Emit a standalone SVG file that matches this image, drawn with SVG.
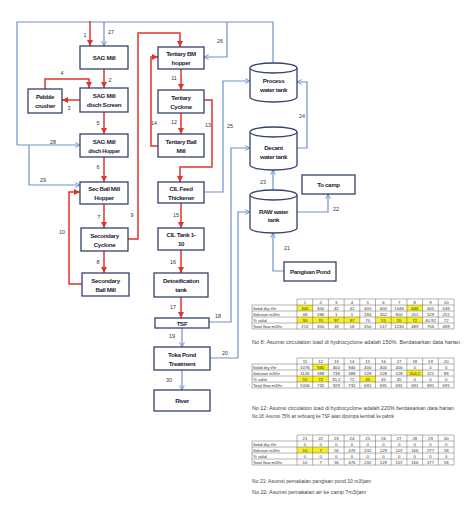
<svg xmlns="http://www.w3.org/2000/svg" xmlns:xlink="http://www.w3.org/1999/xlink" width="474" height="505" viewBox="0 0 474 505">
<style>
.bx{fill:#fff;stroke:#34436c;stroke-width:1.3}
.bt{font-family:"Liberation Sans",Arial,sans-serif;font-size:6.2px;font-weight:bold;fill:#1d2333;text-anchor:middle;letter-spacing:-0.35px}
.r{fill:none;stroke:#e0352b;stroke-width:1.5}
.b{fill:none;stroke:#7391c8;stroke-width:1.2}
.n{font-family:"Liberation Sans",Arial,sans-serif;font-size:5.4px;fill:#333;text-anchor:middle}
.g{fill:none;stroke:#555;stroke-width:0.45}
.t{font-family:"Liberation Sans",Arial,sans-serif;font-size:4.3px;fill:#333;text-anchor:middle}
.tl{font-family:"Liberation Sans",Arial,sans-serif;font-size:4.2px;fill:#333}
.nt{font-family:"Liberation Sans",Arial,sans-serif;font-size:4.6px;fill:#444}
.y{fill:#f7ef1e}
</style>
<defs>
<marker id="ar" viewBox="0 0 10 10" refX="10" refY="5" markerWidth="6" markerHeight="6" markerUnits="userSpaceOnUse" orient="auto"><path d="M0,0 L10,5 L0,10 z" fill="#e0352b"/></marker>
<marker id="ab" viewBox="0 0 10 10" refX="9" refY="5" markerWidth="6" markerHeight="6" markerUnits="userSpaceOnUse" orient="auto"><path d="M1,1 L9,5 L1,9" fill="none" stroke="#7391c8" stroke-width="1.6"/></marker>
<path id="grid" class="g" d="M297,0 H454 M252,6 H454 M252,12 H454 M252,18 H454 M252,24 H454 M252,30 H454 M252,6 V30 M297,0 V30 M312.7,0 V30 M328.4,0 V30 M344.1,0 V30 M359.8,0 V30 M375.5,0 V30 M391.2,0 V30 M406.9,0 V30 M422.6,0 V30 M438.3,0 V30 M454,0 V30"/>
</defs>

<g id="connectors">
<!-- blue water lines -->
<path class="b" d="M17,145 V22 H273 V63"/>
<path class="b" d="M104,22 V46" marker-end="url(#ab)"/>
<path class="b" d="M17,145 H80" marker-end="url(#ab)"/>
<path class="b" d="M29,145 V185 H80" marker-end="url(#ab)"/>
<path class="b" d="M227,22 V57 H204" marker-end="url(#ab)"/>
<path class="b" d="M204,192 H223 V81 H250" marker-end="url(#ab)"/>
<path class="b" d="M297,148 H307 V82 H297" marker-end="url(#ab)"/>
<path class="b" d="M209,322 H231 V148 H250" marker-end="url(#ab)"/>
<path class="b" d="M273,190 V170" marker-end="url(#ab)"/>
<path class="b" d="M297,212 H328 V194" marker-end="url(#ab)"/>
<path class="b" d="M284,271 H273 V233" marker-end="url(#ab)"/>
<path class="b" d="M210,358 H238 V212 H250" marker-end="url(#ab)"/>
<path class="b" d="M182,328 V347" marker-end="url(#ab)"/>
<path class="b" d="M182,370 V390" marker-end="url(#ab)"/>
<!-- red slurry lines -->
<path class="r" d="M90,21 V46" marker-end="url(#ar)"/>
<path class="r" d="M104,69 V88" marker-end="url(#ar)"/>
<path class="r" d="M45,89 V79 H89 V88" marker-end="url(#ar)"/>
<path class="r" d="M80,100 H62" marker-end="url(#ar)"/>
<path class="r" d="M104,112 V134" marker-end="url(#ar)"/>
<path class="r" d="M104,157 V182" marker-end="url(#ar)"/>
<path class="r" d="M104,204 V228" marker-end="url(#ar)"/>
<path class="r" d="M104,251 V273" marker-end="url(#ar)"/>
<path class="r" d="M82,284 H69 V192 H80" marker-end="url(#ar)"/>
<path class="r" d="M128,239 H138 V33 H180 V47" marker-end="url(#ar)"/>
<path class="r" d="M181,69 V90" marker-end="url(#ar)"/>
<path class="r" d="M181,113 V134" marker-end="url(#ar)"/>
<path class="r" d="M158,146 H151 V57 H158" marker-end="url(#ar)"/>
<path class="r" d="M204,100 H212 V167 H180 V182" marker-end="url(#ar)"/>
<path class="r" d="M181,203 V228" marker-end="url(#ar)"/>
<path class="r" d="M181,250 V273" marker-end="url(#ar)"/>
<path class="r" d="M181,297 V318" marker-end="url(#ar)"/>
<!-- stream numbers -->
<text class="n" x="85" y="37">1</text>
<text class="n" x="111" y="34">27</text>
<text class="n" x="110" y="82">2</text>
<text class="n" x="62" y="75">4</text>
<text class="n" x="69" y="110">3</text>
<text class="n" x="98" y="125">5</text>
<text class="n" x="53" y="144">28</text>
<text class="n" x="98" y="169">6</text>
<text class="n" x="43" y="182">29</text>
<text class="n" x="99" y="219">7</text>
<text class="n" x="132" y="217">9</text>
<text class="n" x="62" y="234">10</text>
<text class="n" x="98" y="264">8</text>
<text class="n" x="220" y="43">26</text>
<text class="n" x="174" y="80">11</text>
<text class="n" x="174" y="124">12</text>
<text class="n" x="154" y="125">14</text>
<text class="n" x="208" y="127">13</text>
<text class="n" x="230" y="128">25</text>
<text class="n" x="302" y="118">24</text>
<text class="n" x="263" y="184">23</text>
<text class="n" x="336" y="211">22</text>
<text class="n" x="287" y="250">21</text>
<text class="n" x="176" y="217">15</text>
<text class="n" x="173" y="264">16</text>
<text class="n" x="173" y="309">17</text>
<text class="n" x="218" y="318">18</text>
<text class="n" x="172" y="338">19</text>
<text class="n" x="225" y="355">20</text>
<text class="n" x="169" y="382">30</text>
</g>

<g id="sag-mill"><rect class="bx" x="80" y="46" width="48" height="23"/><text class="bt" x="104" y="60">SAG Mill</text></g>
<g id="sag-screen"><rect class="bx" x="80" y="88" width="48" height="24"/><text class="bt" x="104" y="98">SAG Mill</text><text class="bt" x="104" y="107">disch Screen</text></g>
<g id="pebble"><rect class="bx" x="28" y="89" width="34" height="24"/><text class="bt" x="45" y="99">Pebble</text><text class="bt" x="45" y="108">crusher</text></g>
<g id="sag-hopper"><rect class="bx" x="80" y="134" width="48" height="23"/><text class="bt" x="104" y="144">SAG Mill</text><text class="bt" x="104" y="153" style="font-size:5.6px">disch Hopper</text></g>
<g id="sec-hopper"><rect class="bx" x="80" y="182" width="48" height="22"/><text class="bt" x="104" y="191">Sec Ball Mill</text><text class="bt" x="104" y="200">Hopper</text></g>
<g id="sec-cyclone"><rect class="bx" x="81" y="228" width="47" height="23"/><text class="bt" x="104.5" y="237.5">Secondary</text><text class="bt" x="104.5" y="246.5">Cyclone</text></g>
<g id="sec-mill"><rect class="bx" x="82" y="273" width="47" height="23"/><text class="bt" x="105.5" y="282.5">Secondary</text><text class="bt" x="105.5" y="291.5">Ball Mill</text></g>
<g id="ter-hopper"><rect class="bx" x="158" y="47" width="46" height="22"/><text class="bt" x="181" y="56">Tertiary BM</text><text class="bt" x="181" y="65">hopper</text></g>
<g id="ter-cyclone"><rect class="bx" x="158" y="90" width="46" height="23"/><text class="bt" x="181" y="99.5">Tertiary</text><text class="bt" x="181" y="108.5">Cyclone</text></g>
<g id="ter-mill"><rect class="bx" x="158" y="134" width="46" height="23"/><text class="bt" x="181" y="143.5">Tertiary Ball</text><text class="bt" x="181" y="152.5">Mill</text></g>
<g id="thickener"><rect class="bx" x="158" y="182" width="46" height="21"/><text class="bt" x="181" y="191">CIL Feed</text><text class="bt" x="181" y="200">Thickener</text></g>
<g id="cil-tank"><rect class="bx" x="158" y="228" width="46" height="22"/><text class="bt" x="181" y="237">CIL Tank 1-</text><text class="bt" x="181" y="246">10</text></g>
<g id="detox"><rect class="bx" x="154" y="273" width="54" height="24"/><text class="bt" x="181" y="283">Detoxification</text><text class="bt" x="181" y="292">tank</text></g>
<g id="tsf"><rect class="bx" x="155" y="318" width="54" height="10"/><text class="bt" x="182" y="325.5">TSF</text></g>
<g id="toka"><rect class="bx" x="154" y="347" width="56" height="23"/><text class="bt" x="182" y="356.5">Toka Pond</text><text class="bt" x="182" y="365.5">Treatment</text></g>
<g id="river"><rect class="bx" x="154" y="390" width="56" height="21"/><text class="bt" x="182" y="403">River</text></g>
<g id="to-camp"><rect class="bx" x="302" y="175" width="53" height="19"/><text class="bt" x="328.5" y="187">To camp</text></g>
<g id="pangisan"><rect class="bx" x="284" y="262" width="52" height="19"/><text class="bt" x="310" y="274">Pangisan Pond</text></g>
<g id="process-tank"><path class="bx" d="M250,68 V97 A23.5,5 0 0 0 297,97 V68"/><ellipse class="bx" cx="273.5" cy="68" rx="23.5" ry="5"/><text class="bt" x="273.5" y="83">Process</text><text class="bt" x="273.5" y="92">water tank</text></g>
<g id="decant-tank"><path class="bx" d="M250,132 V165 A23.5,5 0 0 0 297,165 V132"/><ellipse class="bx" cx="273.5" cy="132" rx="23.5" ry="5"/><text class="bt" x="273.5" y="150">Decant</text><text class="bt" x="273.5" y="159">water tank</text></g>
<g id="raw-tank"><path class="bx" d="M250,195 V228 A23.5,5 0 0 0 297,228 V195"/><ellipse class="bx" cx="273.5" cy="195" rx="23.5" ry="5"/><text class="bt" x="273.5" y="214">RAW water</text><text class="bt" x="273.5" y="222">tank</text></g>

<g id="table1">
<rect class="y" x="297" y="305" width="15.7" height="6"/><rect class="y" x="406.9" y="305" width="15.7" height="6"/>
<rect class="y" x="297" y="317" width="62.8" height="6"/><rect class="y" x="375.5" y="317" width="47.1" height="6"/>
<use xlink:href="#grid" y="299"/>
<text class="tl" x="253" y="309.6">Solid dry t/hr</text><text class="tl" x="253" y="315.6">Solution m3/hr</text><text class="tl" x="253" y="321.6">% solid</text><text class="tl" x="253" y="327.6">Total flow m3/hr</text>
<text class="t" x="304.9" y="303.6">1</text><text class="t" x="320.6" y="303.6">2</text><text class="t" x="336.3" y="303.6">3</text><text class="t" x="351.9" y="303.6">4</text><text class="t" x="367.7" y="303.6">5</text><text class="t" x="383.4" y="303.6">6</text><text class="t" x="399.1" y="303.6">7</text><text class="t" x="414.8" y="303.6">8</text><text class="t" x="430.5" y="303.6">9</text><text class="t" x="446.2" y="303.6">10</text>
<text class="t" x="304.9" y="309.6">400</text><text class="t" x="320.6" y="309.6">400</text><text class="t" x="336.3" y="309.6">42</text><text class="t" x="351.9" y="309.6">42</text><text class="t" x="367.7" y="309.6">400</text><text class="t" x="383.4" y="309.6">400</text><text class="t" x="399.1" y="309.6">1046</text><text class="t" x="414.8" y="309.6">646</text><text class="t" x="430.5" y="309.6">400</text><text class="t" x="446.2" y="309.6">646</text>
<text class="t" x="304.9" y="315.6">48</text><text class="t" x="320.6" y="315.6">186</text><text class="t" x="336.3" y="315.6">1</text><text class="t" x="351.9" y="315.6">1</text><text class="t" x="367.7" y="315.6">184</text><text class="t" x="383.4" y="315.6">352</text><text class="t" x="399.1" y="315.6">800</text><text class="t" x="414.8" y="315.6">251</text><text class="t" x="430.5" y="315.6">529</text><text class="t" x="446.2" y="315.6">251</text>
<text class="t" x="304.9" y="321.6">90</text><text class="t" x="320.6" y="321.6">70</text><text class="t" x="336.3" y="321.6">97</text><text class="t" x="351.9" y="321.6">97</text><text class="t" x="367.7" y="321.6">70</text><text class="t" x="383.4" y="321.6">55</text><text class="t" x="399.1" y="321.6">55</text><text class="t" x="414.8" y="321.6">72</text><text class="t" x="430.5" y="321.6">40.92</text><text class="t" x="446.2" y="321.6">72</text>
<text class="t" x="304.9" y="327.6">213</text><text class="t" x="320.6" y="327.6">350</text><text class="t" x="336.3" y="327.6">18</text><text class="t" x="351.9" y="327.6">18</text><text class="t" x="367.7" y="327.6">350</text><text class="t" x="383.4" y="327.6">517</text><text class="t" x="399.1" y="327.6">1230</text><text class="t" x="414.8" y="327.6">489</text><text class="t" x="430.5" y="327.6">756</text><text class="t" x="446.2" y="327.6">489</text>
<text class="nt" x="252" y="344" textLength="208" lengthAdjust="spacingAndGlyphs">No 8: Asumsi circulation load di hydrocyclone adalah 150%. Berdasarkan data harian</text>
</g>

<g id="table2">
<rect class="y" x="312.7" y="364" width="15.7" height="6"/><rect class="y" x="406.9" y="370" width="15.7" height="6"/>
<rect class="y" x="297" y="376" width="31.4" height="6"/><rect class="y" x="359.8" y="376" width="15.7" height="6"/>
<use xlink:href="#grid" y="358"/>
<text class="tl" x="253" y="368.6">Solid dry t/hr</text><text class="tl" x="253" y="374.6">Solution m3/hr</text><text class="tl" x="253" y="380.6">% solid</text><text class="tl" x="253" y="386.6">Total flow m3/hr</text>
<text class="t" x="304.9" y="362.6">11</text><text class="t" x="320.6" y="362.6">12</text><text class="t" x="336.3" y="362.6">13</text><text class="t" x="351.9" y="362.6">14</text><text class="t" x="367.7" y="362.6">15</text><text class="t" x="383.4" y="362.6">16</text><text class="t" x="399.1" y="362.6">17</text><text class="t" x="414.8" y="362.6">18</text><text class="t" x="430.5" y="362.6">19</text><text class="t" x="446.2" y="362.6">20</text>
<text class="t" x="304.9" y="368.6">1076</text><text class="t" x="320.6" y="368.6">940</text><text class="t" x="336.3" y="368.6">400</text><text class="t" x="351.9" y="368.6">940</text><text class="t" x="367.7" y="368.6">400</text><text class="t" x="383.4" y="368.6">400</text><text class="t" x="399.1" y="368.6">400</text><text class="t" x="414.8" y="368.6">0</text><text class="t" x="430.5" y="368.6">0</text><text class="t" x="446.2" y="368.6">0</text>
<text class="t" x="304.9" y="374.6">1126</text><text class="t" x="320.6" y="374.6">388</text><text class="t" x="336.3" y="374.6">738</text><text class="t" x="351.9" y="374.6">388</text><text class="t" x="367.7" y="374.6">528</text><text class="t" x="383.4" y="374.6">528</text><text class="t" x="399.1" y="374.6">528</text><text class="t" x="414.8" y="374.6">204.2</text><text class="t" x="430.5" y="374.6">121</text><text class="t" x="446.2" y="374.6">88</text>
<text class="t" x="304.9" y="380.6">55</text><text class="t" x="320.6" y="380.6">72</text><text class="t" x="336.3" y="380.6">35.2</text><text class="t" x="351.9" y="380.6">72</text><text class="t" x="367.7" y="380.6">45</text><text class="t" x="383.4" y="380.6">45</text><text class="t" x="399.1" y="380.6">45</text><text class="t" x="414.8" y="380.6">0</text><text class="t" x="430.5" y="380.6">0</text><text class="t" x="446.2" y="380.6">0</text>
<text class="t" x="304.9" y="386.6">1006</text><text class="t" x="320.6" y="386.6">732</text><text class="t" x="336.3" y="386.6">929</text><text class="t" x="351.9" y="386.6">732</text><text class="t" x="367.7" y="386.6">691</text><text class="t" x="383.4" y="386.6">691</text><text class="t" x="399.1" y="386.6">691</text><text class="t" x="414.8" y="386.6">691</text><text class="t" x="430.5" y="386.6">691</text><text class="t" x="446.2" y="386.6">691</text>
<text class="nt" x="252" y="410" textLength="202" lengthAdjust="spacingAndGlyphs">No 12: Asumsi circulation load di hydrocyclone adalah 220% berdasarkan data harian</text>
<text class="nt" x="252" y="418" textLength="142" lengthAdjust="spacingAndGlyphs">No 18: Asumsi 75% air terbuang ke TSF akan dipompa kembali ke pabrik</text>
</g>

<g id="table3">
<rect class="y" x="297" y="447" width="31.4" height="6"/>
<use xlink:href="#grid" y="435"/>
<text class="tl" x="253" y="445.6">Solid dry t/hr</text><text class="tl" x="253" y="451.6">Solution m3/hr</text><text class="tl" x="253" y="457.6">% solid</text><text class="tl" x="253" y="463.6">Total flow m3/hr</text>
<text class="t" x="304.9" y="439.6">21</text><text class="t" x="320.6" y="439.6">22</text><text class="t" x="336.3" y="439.6">23</text><text class="t" x="351.9" y="439.6">24</text><text class="t" x="367.7" y="439.6">25</text><text class="t" x="383.4" y="439.6">26</text><text class="t" x="399.1" y="439.6">27</text><text class="t" x="414.8" y="439.6">28</text><text class="t" x="430.5" y="439.6">29</text><text class="t" x="446.2" y="439.6">30</text>
<text class="t" x="304.9" y="445.6">0</text><text class="t" x="320.6" y="445.6">0</text><text class="t" x="336.3" y="445.6">0</text><text class="t" x="351.9" y="445.6">0</text><text class="t" x="367.7" y="445.6">0</text><text class="t" x="383.4" y="445.6">0</text><text class="t" x="399.1" y="445.6">0</text><text class="t" x="414.8" y="445.6">0</text><text class="t" x="430.5" y="445.6">0</text><text class="t" x="446.2" y="445.6">0</text>
<text class="t" x="304.9" y="451.6">10</text><text class="t" x="320.6" y="451.6">7</text><text class="t" x="336.3" y="451.6">56</text><text class="t" x="351.9" y="451.6">476</text><text class="t" x="367.7" y="451.6">232</text><text class="t" x="383.4" y="451.6">129</text><text class="t" x="399.1" y="451.6">107</text><text class="t" x="414.8" y="451.6">166</text><text class="t" x="430.5" y="451.6">277</text><text class="t" x="446.2" y="451.6">58</text>
<text class="t" x="304.9" y="457.6">0</text><text class="t" x="320.6" y="457.6">0</text><text class="t" x="336.3" y="457.6">0</text><text class="t" x="351.9" y="457.6">0</text><text class="t" x="367.7" y="457.6">0</text><text class="t" x="383.4" y="457.6">0</text><text class="t" x="399.1" y="457.6">0</text><text class="t" x="414.8" y="457.6">0</text><text class="t" x="430.5" y="457.6">0</text><text class="t" x="446.2" y="457.6">0</text>
<text class="t" x="304.9" y="463.6">10</text><text class="t" x="320.6" y="463.6">7</text><text class="t" x="336.3" y="463.6">56</text><text class="t" x="351.9" y="463.6">476</text><text class="t" x="367.7" y="463.6">232</text><text class="t" x="383.4" y="463.6">129</text><text class="t" x="399.1" y="463.6">107</text><text class="t" x="414.8" y="463.6">166</text><text class="t" x="430.5" y="463.6">277</text><text class="t" x="446.2" y="463.6">58</text>
<text class="nt" x="252" y="483" textLength="119" lengthAdjust="spacingAndGlyphs">No 21: Asumsi pemakaian pangisan pond 10 m3/jam</text>
<text class="nt" x="252" y="494" textLength="114" lengthAdjust="spacingAndGlyphs">No 22: Asumsi pemakaian air ke camp 7m3/jam</text>
</g>
</svg>
